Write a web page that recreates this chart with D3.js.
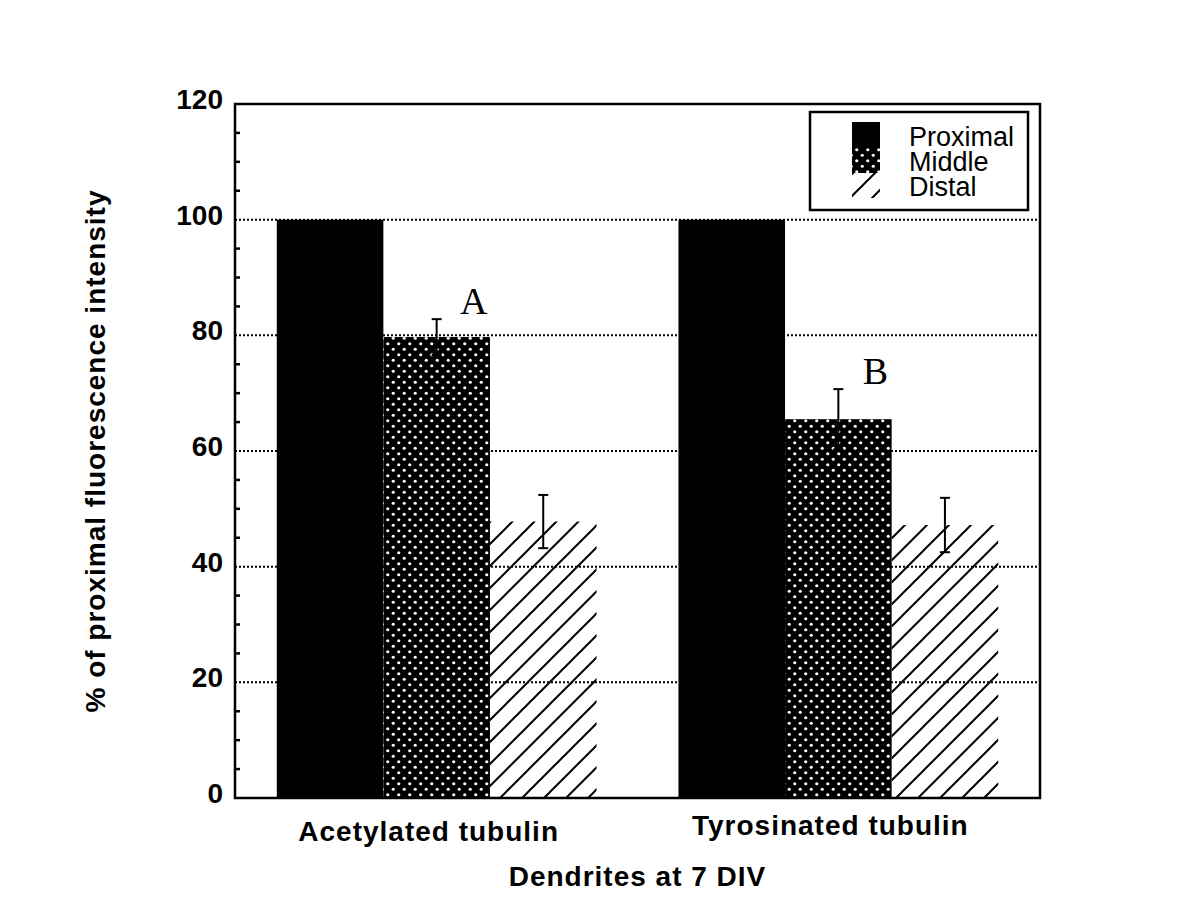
<!DOCTYPE html>
<html>
<head>
<meta charset="utf-8">
<script src="https://cdn.jsdelivr.net/npm/d3@7"></script>
<style>
  body { margin: 0; background: #fff; }
  svg { display: block; }
</style>
</head>
<body>
<div id="chart"></div>
<script>
// data
var categories = ["Acetylated tubulin", "Tyrosinated tubulin"];
var seriesNames = ["Proximal", "Middle", "Distal"];
var proximal = [100, 100];
var middle = [79.7, 65.5];
var distal = [47.8, 47.2];
var proximalErr = [0, 0];
var middleErr = [3.1, 5.2];
var distalErr = [4.6, 4.7];
var middleMarks = ["A", "B"];
var yTicks = [0, 20, 40, 60, 80, 100, 120];
var yMinor = d3.range(0, 121, 5).filter(function(d){ return d % 20 !== 0; });

var fontFamily = "'Liberation Sans', Arial, Helvetica, sans-serif";
var width = 1200, height = 913;
// plot box (window.top is reserved, so no bare "top")
var plotLeft = 235, plotRight = 1040, plotTop = 104, plotBottom = 798;

var svg = d3.select("#chart").append("svg")
  .attr("width", width)
  .attr("height", height);

var defs = svg.append("defs");

// dotted fill for "Middle": black with white dots
var dots = defs.append("pattern")
  .attr("id", "dots")
  .attr("patternUnits", "userSpaceOnUse")
  .attr("width", 11).attr("height", 11);
dots.append("rect").attr("width", 11).attr("height", 11).attr("fill", "#000");
dots.append("circle").attr("cx", 2.75).attr("cy", 2.75).attr("r", 1.6).attr("fill", "#fff");
dots.append("circle").attr("cx", 8.25).attr("cy", 8.25).attr("r", 1.6).attr("fill", "#fff");

// diagonal hatch for "Distal"
var hatch = defs.append("pattern")
  .attr("id", "hatch")
  .attr("patternUnits", "userSpaceOnUse")
  .attr("width", 22).attr("height", 22);
hatch.append("path")
  .attr("d", "M0,22 L22,0 M-6,6 L6,-6 M16,28 L28,16")
  .attr("stroke", "#000")
  .attr("stroke-width", 2);

var fills = ["#000", "url(#dots)", "url(#hatch)"];

var y = d3.scaleLinear().domain([0, 120]).range([plotBottom, plotTop]);

var x0 = d3.scaleBand()
  .domain(categories)
  .range([plotLeft, plotRight])
  .paddingInner(0.204)
  .paddingOuter(0.104);

var x1 = d3.scaleBand()
  .domain(seriesNames)
  .range([0, x0.bandwidth()]);

// dotted grid lines (bars cover them)
svg.append("g").selectAll("line")
  .data(yTicks.filter(function(d){ return d > 0 && d < 120; }))
  .enter().append("line")
  .attr("x1", plotLeft).attr("x2", plotRight)
  .attr("y1", function(d){ return y(d); })
  .attr("y2", function(d){ return y(d); })
  .attr("stroke", "#000")
  .attr("stroke-width", 2)
  .attr("stroke-dasharray", "2,2");

// bars
var table = categories.map(function(c, i){
  return [
    {cat: c, s: "Proximal", v: proximal[i], e: proximalErr[i]},
    {cat: c, s: "Middle", v: middle[i], e: middleErr[i], mark: middleMarks[i]},
    {cat: c, s: "Distal", v: distal[i], e: distalErr[i]}
  ];
});
var flat = [].concat.apply([], table);

function barMid(d){ return x0(d.cat) + x1(d.s) + x1.bandwidth() / 2; }

svg.append("g").selectAll("rect")
  .data(flat)
  .enter().append("rect")
  .attr("x", function(d){ return x0(d.cat) + x1(d.s); })
  .attr("y", function(d){ return y(d.v); })
  .attr("width", x1.bandwidth())
  .attr("height", function(d){ return y(0) - y(d.v); })
  .attr("fill", function(d){ return fills[seriesNames.indexOf(d.s)]; });

// error bars
var errs = svg.append("g").attr("stroke", "#000").attr("stroke-width", 2)
  .selectAll("g")
  .data(flat.filter(function(d){ return d.e > 0; }))
  .enter().append("g");
errs.append("line")
  .attr("x1", barMid)
  .attr("x2", barMid)
  .attr("y1", function(d){ return y(d.v + d.e); })
  .attr("y2", function(d){ return y(d.v - d.e); });
errs.selectAll("line.cap")
  .data(function(d){ return [d.v + d.e, d.v - d.e].map(function(v){ return {d: d, v: v}; }); })
  .enter().append("line")
  .attr("class", "cap")
  .attr("x1", function(p){ return barMid(p.d) - 5; })
  .attr("x2", function(p){ return barMid(p.d) + 5; })
  .attr("y1", function(p){ return y(p.v); })
  .attr("y2", function(p){ return y(p.v); });

// A / B marks over the middle bars
svg.append("g").selectAll("text")
  .data(flat.filter(function(d){ return d.mark; }))
  .enter().append("text")
  .attr("x", function(d){ return barMid(d) + 37; })
  .attr("y", function(d){ return y(d.v + d.e) - 5; })
  .attr("text-anchor", "middle")
  .attr("font-family", "'Liberation Serif', 'Times New Roman', serif")
  .attr("font-size", 38)
  .text(function(d){ return d.mark; });

// frame
svg.append("rect")
  .attr("x", plotLeft).attr("y", plotTop)
  .attr("width", plotRight - plotLeft).attr("height", plotBottom - plotTop)
  .attr("fill", "none")
  .attr("stroke", "#000")
  .attr("stroke-width", 2.5);

// minor ticks on the left axis
svg.append("g").selectAll("line")
  .data(yMinor)
  .enter().append("line")
  .attr("x1", plotLeft).attr("x2", plotLeft + 5)
  .attr("y1", function(d){ return y(d); })
  .attr("y2", function(d){ return y(d); })
  .attr("stroke", "#000")
  .attr("stroke-width", 2.5);

// y tick labels
svg.append("g").selectAll("text")
  .data(yTicks)
  .enter().append("text")
  .attr("x", plotLeft - 12)
  .attr("y", function(d){ return y(d) + 5; })
  .attr("text-anchor", "end")
  .attr("font-family", fontFamily)
  .attr("font-weight", "bold")
  .attr("font-size", 28)
  .text(function(d){ return d; });

// category labels
svg.append("g").selectAll("text")
  .data(categories)
  .enter().append("text")
  .attr("x", function(d){ return x0(d) + x0.bandwidth() / 2 - 8; })
  .attr("y", function(d, i){ return plotBottom + 43 - i * 6; })
  .attr("text-anchor", "middle")
  .attr("font-family", fontFamily)
  .attr("font-weight", "bold")
  .attr("font-size", 28)
  .attr("letter-spacing", 1)
  .text(function(d){ return d; });

// axis titles
svg.append("text")
  .attr("x", (plotLeft + plotRight) / 2)
  .attr("y", 886)
  .attr("text-anchor", "middle")
  .attr("font-family", fontFamily)
  .attr("font-weight", "bold")
  .attr("font-size", 28)
  .attr("letter-spacing", 1)
  .text("Dendrites at 7 DIV");

svg.append("text")
  .attr("transform", "translate(105," + ((plotTop + plotBottom) / 2) + ") rotate(-90)")
  .attr("text-anchor", "middle")
  .attr("font-family", fontFamily)
  .attr("font-weight", "bold")
  .attr("font-size", 28)
  .attr("letter-spacing", 1)
  .text("% of proximal fluorescence intensity");

// legend
var legend = svg.append("g").attr("transform", "translate(810,112)");
legend.append("rect")
  .attr("width", 218).attr("height", 98)
  .attr("fill", "#fff")
  .attr("stroke", "#000")
  .attr("stroke-width", 2.5);
var items = legend.selectAll("g.item")
  .data(seriesNames)
  .enter().append("g")
  .attr("class", "item")
  .attr("transform", function(d, i){ return "translate(0," + (10 + i * 25) + ")"; });
items.append("rect")
  .attr("x", 42).attr("y", 0)
  .attr("width", 28).attr("height", 26)
  .attr("fill", function(d, i){ return fills[i]; });
items.append("text")
  .attr("x", 99)
  .attr("y", 24)
  .attr("font-family", fontFamily)
  .attr("font-size", 27)
  .text(function(d){ return d; });
</script>
</body>
</html>
